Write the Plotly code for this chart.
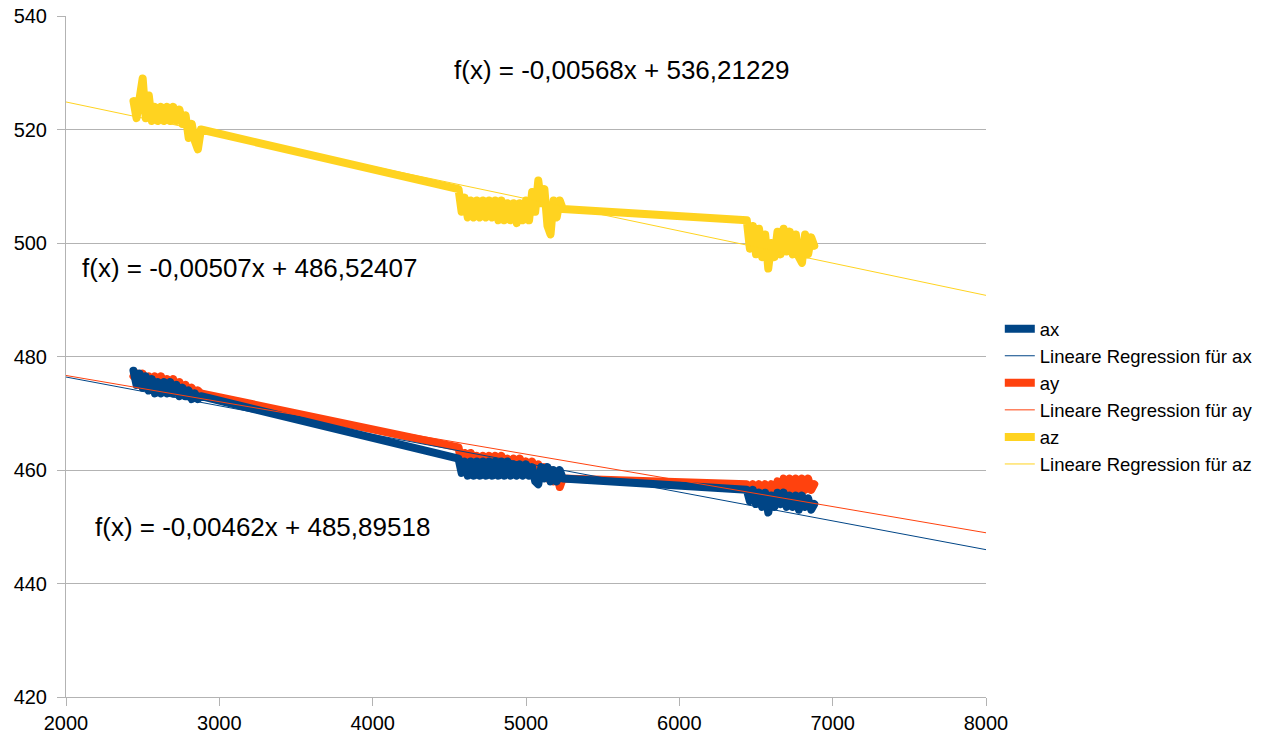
import plotly.graph_objects as go

# ---- data ----
x_c1 = [2440, 2460, 2480, 2500, 2520, 2540, 2560, 2580, 2600, 2620, 2640, 2660,
        2680, 2700, 2720, 2740, 2760, 2780, 2800, 2820, 2840, 2860, 2880]
x_c2 = [4560, 4580, 4600, 4620, 4640, 4660, 4680, 4700, 4720, 4740, 4760, 4780,
        4800, 4820, 4840, 4860, 4880, 4900, 4920, 4940, 4960, 4980, 5000, 5020,
        5040, 5060, 5080, 5100, 5120, 5140, 5160, 5180, 5200, 5220, 5240]
x_c3 = [6440, 6460, 6480, 6500, 6520, 6540, 6560, 6580, 6600, 6620, 6640, 6660,
        6680, 6700, 6720, 6740, 6760, 6780, 6800, 6820, 6840, 6860, 6880]
x_vals = x_c1 + x_c2 + x_c3

ax_vals = [477.5, 475, 477, 474.5, 476.5, 474, 476, 473.5, 475.5, 473.5, 475.5, 473.5,
           475.5, 473.5, 475, 473, 474.5, 473, 474, 472.5, 473.5, 472.5, 473,
           462, 459.5, 461.5, 459, 461.5, 459, 461.5, 459, 461.5, 459, 461.5, 459,
           461.5, 459, 461.5, 459, 461.5, 459, 461, 459, 461, 459, 461, 459,
           460.5, 458, 457.5, 460.5, 458.5, 460.5, 458, 460, 458, 460, 458.5,
           456.5, 454.5, 456.5, 454, 456, 453.5, 456, 452.5, 455.5, 453.5, 456, 454,
           456, 453.5, 455.5, 453.5, 455.5, 453, 455.5, 453.5, 455, 453, 454]

ay_vals = [476.5, 477, 475, 477, 475, 476.5, 474.5, 476.5, 474.5, 476.5, 474, 476,
           474, 476, 474, 475.5, 473.5, 475, 473.5, 474.5, 473, 474, 473.5,
           464, 461, 463, 460.5, 463, 460.5, 462.5, 460.5, 462.5, 460.5, 462.5, 460.5,
           462.5, 460.5, 462.5, 460.5, 462, 460, 462, 460, 462, 460, 461.5, 459.5,
           461.5, 459.5, 461, 459, 460.5, 458.5, 460, 458, 459.5, 457, 458.5,
           457.5, 456, 457.5, 456, 457.5, 456, 457.5, 456, 457.5, 456, 458, 456.5,
           458.5, 456.5, 458.5, 456.5, 458.5, 456.5, 458.5, 456.5, 458.5, 456.5, 457.5]

az_vals = [525, 522, 525.5, 529, 522, 526, 521.5, 524, 521.5, 524, 521.5, 524,
           521.5, 524, 521.5, 523.5, 521, 522.5, 518.5, 521, 518, 516.5, 520,
           509.5, 505.5, 508, 504.5, 507.5, 504.5, 507.5, 504.5, 507.5, 504.5, 507.5, 504.5,
           507.5, 504, 507.5, 504, 507, 504, 507, 503.5, 507, 504, 507.5, 504,
           509, 505.5, 511, 507, 509.5, 503, 501.5, 507.5, 504.5, 507.5, 506,
           504, 499, 503, 498, 502.5, 497.5, 501.5, 495.5, 500, 497.5, 502, 498,
           502.5, 498.5, 502, 498, 501.5, 497.5, 496.5, 501.5, 498, 501, 499.5]

series_names = ["ax", "ay", "az"]
series_colors = ["#004586", "#ff420e", "#ffd320"]
trend_slopes = [-0.00507, -0.00462, -0.00568]
trend_intercepts = [486.52407, 485.89518, 536.21229]
trend_labels = ["f(x) = -0,00507x + 486,52407",
                "f(x) = -0,00462x + 485,89518",
                "f(x) = -0,00568x + 536,21229"]
x_range = [2000, 8000]
y_range = [420, 540]
x_ticks = [2000, 3000, 4000, 5000, 6000, 7000, 8000]
y_ticks = [420, 440, 460, 480, 500, 520, 540]

FONT = "Liberation Sans, Arial, sans-serif"
fig = go.Figure()

all_vals = [ax_vals, ay_vals, az_vals]
draw_order = [1, 0, 2]  # ay under ax, az on top
for i in draw_order:
    fig.add_trace(go.Scatter(x=x_vals, y=all_vals[i], mode="lines", name=series_names[i],
                             line=dict(color=series_colors[i], width=8),
                             legendrank=10 + 2 * i, hoverinfo="skip"))
for i in range(3):
    m, b = trend_slopes[i], trend_intercepts[i]
    fig.add_trace(go.Scatter(x=x_range, y=[m * x_range[0] + b, m * x_range[1] + b],
                             mode="lines", name="Lineare Regression für " + series_names[i],
                             line=dict(color=series_colors[i], width=1),
                             legendrank=11 + 2 * i, hoverinfo="skip"))

# equation labels (positions in data coordinates)
label_pos = [(2091, 495.6), (2176, 450.0), (4517, 530.5)]
for txt, (lx, ly) in zip(trend_labels, label_pos):
    fig.add_annotation(x=lx, y=ly, text=txt, showarrow=False, xanchor="left",
                       yanchor="middle", font=dict(family=FONT, size=26, color="#000000"))

fig.update_layout(
    width=1268, height=744,
    margin=dict(l=66, r=282, t=16, b=47, autoexpand=False),
    paper_bgcolor="white", plot_bgcolor="white",
    font=dict(family=FONT, color="#000000"),
    showlegend=True,
    legend=dict(x=1.015, y=0.441, xanchor="left", yanchor="middle",
                font=dict(family=FONT, size=18.5, color="#000000"),
                tracegroupgap=0, itemwidth=30, bgcolor="rgba(0,0,0,0)"),
)
fig.update_xaxes(range=x_range, tickvals=x_ticks, showgrid=False, zeroline=False,
                 showline=True, linecolor="#b3b3b3", linewidth=1, automargin=False,
                 ticks="outside", ticklen=8, tickcolor="#b3b3b3",
                 tickfont=dict(family=FONT, size=20, color="#000000"))
fig.update_yaxes(range=y_range, tickvals=y_ticks, showgrid=True, gridcolor="#b3b3b3",
                 gridwidth=1, zeroline=False, automargin=False,
                 showline=True, linecolor="#b3b3b3", linewidth=1,
                 ticks="outside", ticklen=8, tickcolor="#b3b3b3", ticklabelstandoff=6,
                 tickfont=dict(family=FONT, size=20, color="#000000"))

round_joins = """
document.querySelectorAll('.cartesianlayer .js-line').forEach(function(p){
  p.style.strokeLinejoin='round'; p.style.strokeLinecap='round';
});
"""
fig.write_html("out.html", post_script=round_joins)
